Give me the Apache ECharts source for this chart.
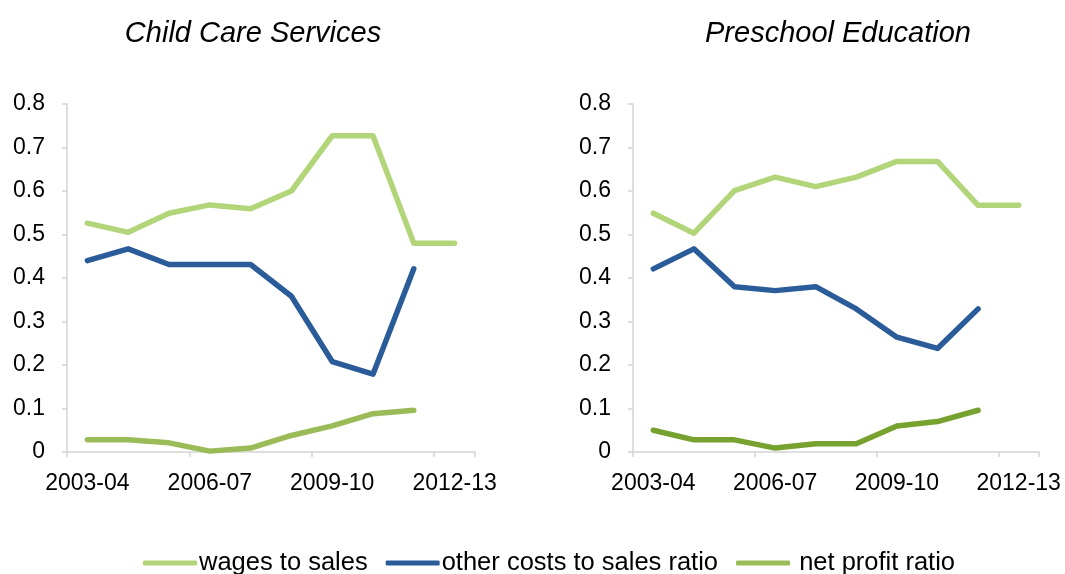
<!DOCTYPE html>
<html><head><meta charset="utf-8">
<script src="https://cdn.jsdelivr.net/npm/echarts@6/dist/echarts.min.js"></script>
<style>html,body{margin:0;padding:0;background:#fff}#c{width:1065px;height:574px}</style>
</head><body><div id="c"></div>
<script>
const categories = ['2003-04','2004-05','2005-06','2006-07','2007-08','2008-09','2009-10','2010-11','2011-12','2012-13'];
const yTicks = [0, 0.1, 0.2, 0.3, 0.4, 0.5, 0.6, 0.7, 0.8];
const panelTitles = ['Child Care Services', 'Preschool Education'];
const seriesNames = ['wages to sales', 'other costs to sales ratio', 'net profit ratio'];

const childWages = [0.526, 0.505, 0.549, 0.568, 0.559, 0.600, 0.727, 0.727, 0.480, 0.480];
const childOther = [0.440, 0.467, 0.431, 0.431, 0.431, 0.358, 0.208, 0.179, 0.421, null];
const childProfit = [0.028, 0.028, 0.021, 0.002, 0.009, 0.038, 0.060, 0.088, 0.096, null];

const preWages = [0.549, 0.503, 0.601, 0.632, 0.610, 0.632, 0.668, 0.668, 0.567, 0.567];
const preOther = [0.421, 0.467, 0.380, 0.371, 0.380, 0.329, 0.264, 0.238, 0.329, null];
const preProfit = [0.050, 0.028, 0.028, 0.009, 0.019, 0.019, 0.060, 0.070, 0.096, null];

const FONT = 'Liberation Sans, Arial, sans-serif';
const axisColor = '#d4d4d4';

function xAxis(gi) {
  return {
    type: 'category', gridIndex: gi, data: categories, boundaryGap: true,
    axisLine: { lineStyle: { color: axisColor, width: 1.5 } },
    axisTick: { show: true, interval: 2, length: 5, lineStyle: { color: axisColor, width: 1.5 } },
    axisLabel: { interval: 2, color: '#000', fontFamily: FONT, fontSize: 23, margin: 20 },
    splitLine: { show: false }
  };
}
function yAxis(gi) {
  return {
    type: 'value', gridIndex: gi, min: yTicks[0], max: yTicks[yTicks.length - 1], interval: 0.1,
    axisLine: { show: true, lineStyle: { color: axisColor, width: 1.5 } },
    axisTick: { show: true, length: 5, lineStyle: { color: axisColor, width: 1.5 } },
    axisLabel: { color: '#000', fontFamily: FONT, fontSize: 23, margin: 22,
      formatter: v => String(Math.round(v * 10) / 10) },
    splitLine: { show: false }
  };
}
function line(name, data, color, gi) {
  return {
    type: 'line', name, data, xAxisIndex: gi, yAxisIndex: gi,
    symbol: 'none', connectNulls: false,
    lineStyle: { color, width: 5.5, cap: 'round', join: 'round' },
    itemStyle: { color }
  };
}

const titleStyle = { fontFamily: FONT, fontSize: 29, fontStyle: 'italic', fontWeight: 'normal', color: '#000' };
const option = {
  animation: false,
  backgroundColor: '#fff',
  title: [
    { text: panelTitles[0], left: 248, top: 14, textAlign: 'center', textStyle: titleStyle },
    { text: panelTitles[1], left: 833, top: 14, textAlign: 'center', textStyle: titleStyle }
  ],
  grid: [
    { left: 67, right: 590, top: 104, bottom: 122 },
    { left: 633, right: 26, top: 104, bottom: 122 }
  ],
  xAxis: [xAxis(0), xAxis(1)],
  yAxis: [yAxis(0), yAxis(1)],
  legend: {
    bottom: -2, left: 143, padding: 0, data: seriesNames,
    icon: 'roundRect', itemWidth: 54, itemHeight: 5, itemGap: 18,
    formatter: n => (n === seriesNames[2] ? ' ' + n : n),
    textStyle: { fontFamily: FONT, fontSize: 25.5, color: '#000', padding: [0, 0, 0, -3] }
  },
  series: [
    line(seriesNames[0], childWages, '#b3d57a', 0),
    line(seriesNames[1], childOther, '#2b5c9a', 0),
    line(seriesNames[2], childProfit, '#9bbb59', 0),
    line(seriesNames[0], preWages, '#b3d57a', 1),
    line(seriesNames[1], preOther, '#2b5c9a', 1),
    line(seriesNames[2], preProfit, '#78a22f', 1)
  ]
};
echarts.init(document.getElementById('c'), null, { renderer: 'canvas' }).setOption(option);
</script>
</body></html>
